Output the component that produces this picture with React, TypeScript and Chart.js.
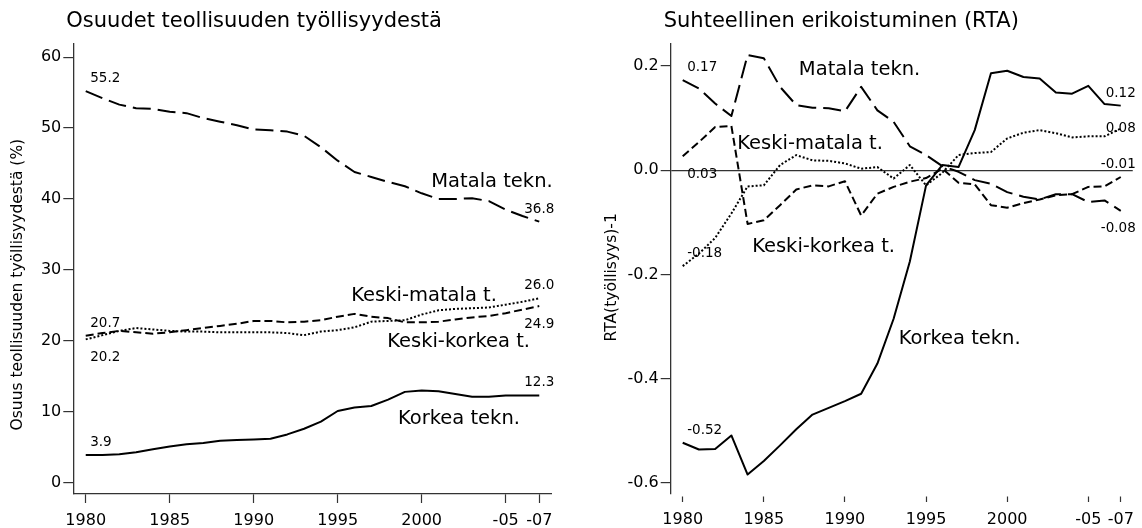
import React, { useEffect, useRef } from "react";
import { Chart, registerables } from "chart.js";

Chart.register(...registerables);

// ---------------- data ----------------
const years = [1980, 1981, 1982, 1983, 1984, 1985, 1986, 1987, 1988, 1989, 1990, 1991, 1992, 1993,
  1994, 1995, 1996, 1997, 1998, 1999, 2000, 2001, 2002, 2003, 2004, 2005, 2006, 2007];

const xTickValues = [1980, 1985, 1990, 1995, 2000, 2005, 2007];
const xTickLabels = ["1980", "1985", "1990", "1995", "2000", "-05", "-07"];

const leftYTicks = [0, 10, 20, 30, 40, 50, 60];
const rightYTicks = [-0.6, -0.4, -0.2, 0, 0.2];

const seriesNames = ["Matala tekn.", "Keski-matala t.", "Keski-korkea t.", "Korkea tekn."];

// Shares of manufacturing employment (%)
const shareLow = [55.2, 54.2, 53.3, 52.8, 52.7, 52.3, 52.1, 51.4, 50.9, 50.4, 49.8, 49.7, 49.5, 48.9,
  47.3, 45.4, 43.8, 43.1, 42.4, 41.8, 40.8, 40.0, 40.0, 40.1, 39.7, 38.5, 37.6, 36.8];
const shareMedLow = [20.2, 20.8, 21.4, 21.8, 21.6, 21.4, 21.3, 21.3, 21.2, 21.2, 21.2, 21.2, 21.1, 20.8,
  21.3, 21.5, 21.9, 22.7, 22.8, 22.9, 23.7, 24.3, 24.5, 24.6, 24.7, 25.1, 25.5, 26.0];
const shareMedHigh = [20.7, 21.1, 21.4, 21.2, 21.0, 21.2, 21.5, 21.8, 22.1, 22.4, 22.8, 22.8, 22.6, 22.7,
  22.9, 23.4, 23.8, 23.4, 23.2, 22.6, 22.6, 22.7, 23.0, 23.3, 23.5, 23.9, 24.4, 24.9];
const shareHigh = [3.9, 3.9, 4.0, 4.3, 4.7, 5.1, 5.4, 5.6, 5.9, 6.0, 6.1, 6.2, 6.8, 7.6,
  8.6, 10.1, 10.6, 10.8, 11.7, 12.8, 13.0, 12.9, 12.5, 12.1, 12.1, 12.3, 12.3, 12.3];

// Relative specialisation RTA - 1
const rtaLow = [0.173, 0.157, 0.128, 0.104, 0.221, 0.215, 0.160, 0.125, 0.120, 0.119, 0.113, 0.160, 0.115, 0.093,
  0.046, 0.029, 0.008, -0.003, -0.019, -0.026, -0.042, -0.051, -0.056, -0.046, -0.046, -0.061, -0.058, -0.078];
const rtaMedLow = [-0.184, -0.160, -0.130, -0.083, -0.031, -0.029, 0.010, 0.029, 0.019, 0.018, 0.013, 0.003, 0.006, -0.016,
  0.010, -0.029, -0.005, 0.029, 0.033, 0.035, 0.061, 0.072, 0.077, 0.071, 0.063, 0.065, 0.065, 0.080];
const rtaMedHigh = [0.027, 0.054, 0.083, 0.085, -0.103, -0.096, -0.067, -0.037, -0.029, -0.031, -0.021, -0.087, -0.045, -0.032,
  -0.022, -0.015, 0.003, -0.024, -0.027, -0.067, -0.072, -0.063, -0.056, -0.048, -0.046, -0.032, -0.031, -0.013];
const rtaHigh = [-0.523, -0.536, -0.535, -0.509, -0.584, -0.558, -0.528, -0.497, -0.469, -0.456, -0.443, -0.429, -0.371, -0.285,
  -0.175, -0.029, 0.010, 0.006, 0.077, 0.186, 0.191, 0.179, 0.176, 0.149, 0.147, 0.162, 0.127, 0.124];

// ---------------- styles ----------------
const FONT = '"DejaVu Sans", "Verdana", sans-serif';
const INK = "#000";
const AXIS = "#333";
const dashes = [[18, 7], [2, 2], [8, 4], []];

type Pos = "above" | "below" | "mid";

interface PanelSpec {
  title: string;
  yTitle: string;
  yTitleX: number;
  yTitleShift: number;
  values: number[][];
  startPos: Pos[];
  endPos: Pos[];
  digits: number;
  nameAnchors: { x: number; y: number; align: CanvasTextAlign }[];
  yMin: number;
  yMax: number;
  yTicks: number[];
  yFmt: (v: number) => string;
  yAxisWidth: number;
  xAxisHeight: number;
  padRight: number;
  xBorder: boolean;
  tickDash: number[];
  zeroLine: boolean;
  width: number;
  left: number;
}

const leftPanel: PanelSpec = {
  title: "Osuudet teollisuuden työllisyydestä",
  yTitle: "Osuus teollisuuden työllisyydestä (%)",
  yTitleX: 18,
  yTitleShift: 16,
  values: [shareLow, shareMedLow, shareMedHigh, shareHigh],
  startPos: ["above", "below", "above", "above"],
  endPos: ["above", "above", "below", "above"],
  digits: 1,
  nameAnchors: [
    { x: 2007.8, y: 42.4, align: "right" },
    { x: 2004.48, y: 26.3, align: "right" },
    { x: 2006.45, y: 19.8, align: "right" },
    { x: 2005.85, y: 9.0, align: "right" },
  ],
  yMin: -1.6,
  yMax: 61.95,
  yTicks: leftYTicks,
  yFmt: (v) => String(v),
  yAxisWidth: 73.3,
  xAxisHeight: 34,
  padRight: 48.3,
  xBorder: true,
  tickDash: [],
  zeroLine: false,
  width: 600,
  left: 0,
};

const rightPanel: PanelSpec = {
  title: "Suhteellinen erikoistuminen (RTA)",
  yTitle: "RTA(työllisyys)-1",
  yTitleX: 12,
  yTitleShift: 9,
  values: [rtaLow, rtaMedLow, rtaMedHigh, rtaHigh],
  startPos: ["above", "above", "below", "above"],
  endPos: ["below", "mid", "above", "above"],
  digits: 2,
  nameAnchors: [
    { x: 1987.16, y: 0.192, align: "left" },
    { x: 1983.36, y: 0.05, align: "left" },
    { x: 1984.28, y: -0.147, align: "left" },
    { x: 1993.31, y: -0.324, align: "left" },
  ],
  yMin: -0.62,
  yMax: 0.2436,
  yTicks: rightYTicks,
  yFmt: (v) => v.toFixed(1),
  yAxisWidth: 70.7,
  xAxisHeight: 34.7,
  padRight: 7,
  xBorder: false,
  tickDash: [0, 3.5, 5.5, 40],
  zeroLine: true,
  width: 542,
  left: 600,
};

const annotPlugin = {
  id: "annot",
  afterDatasetsDraw(chart: any) {
    const spec: PanelSpec = chart.options.plugins.annot.spec;
    const { ctx, chartArea } = chart;
    const xs = chart.scales.x;
    const ys = chart.scales.y;
    ctx.save();
    ctx.fillStyle = INK;
    ctx.textBaseline = "middle";

    // panel title
    ctx.font = `21px ${FONT}`;
    ctx.textAlign = "left";
    ctx.fillText(spec.title, chartArea.left - 7, 22);

    // y axis title
    ctx.save();
    ctx.font = `15.5px ${FONT}`;
    ctx.textAlign = "center";
    ctx.translate(spec.yTitleX, (chartArea.top + chartArea.bottom) / 2 + spec.yTitleShift);
    ctx.rotate(-Math.PI / 2);
    ctx.fillText(spec.yTitle, 0, 0);
    ctx.restore();

    const off = (p: Pos) => (p === "above" ? -12.5 : p === "below" ? 18 : 0);

    // value labels at start and end
    ctx.font = `13.5px ${FONT}`;
    spec.values.forEach((vals, i) => {
      const first = vals[0];
      const last = vals[vals.length - 1];
      const px0 = xs.getPixelForValue(years[0]);
      const py0 = ys.getPixelForValue(first);
      ctx.textAlign = "left";
      ctx.fillText(first.toFixed(spec.digits), px0 + 4.5, py0 + off(spec.startPos[i]));
      const px1 = xs.getPixelForValue(years[years.length - 1]);
      const py1 = ys.getPixelForValue(last);
      ctx.textAlign = "right";
      ctx.fillText(last.toFixed(spec.digits), px1 + 15, py1 + off(spec.endPos[i]));
    });

    // series names
    ctx.font = `19.5px ${FONT}`;
    spec.nameAnchors.forEach((a, i) => {
      ctx.textAlign = a.align;
      ctx.fillText(seriesNames[i], xs.getPixelForValue(a.x), ys.getPixelForValue(a.y));
    });
    ctx.restore();
  },
};

function makeConfig(spec: PanelSpec): any {
  const tickFont = { family: FONT, size: 16 };
  return {
    type: "line",
    data: {
      datasets: spec.values.map((vals, i) => ({
        label: seriesNames[i],
        data: years.map((yr, j) => ({ x: yr, y: vals[j] })),
        borderColor: INK,
        borderWidth: 2,
        borderDash: dashes[i],
        borderCapStyle: "butt",
        borderJoinStyle: "round",
        pointRadius: 0,
        fill: false,
        tension: 0,
      })),
    },
    options: {
      animation: false,
      responsive: false,
      events: [],
      layout: { padding: { left: 0, right: spec.padRight, top: 43.3, bottom: 0 } },
      plugins: {
        legend: { display: false },
        tooltip: { enabled: false },
        title: { display: false },
        annot: { spec },
      },
      scales: {
        x: {
          type: "linear",
          min: 1979.26,
          max: 2007.74,
          afterBuildTicks: (s: any) => {
            s.ticks = xTickValues.map((v) => ({ value: v }));
          },
          afterFit: (s: any) => {
            s.height = spec.xAxisHeight;
          },
          ticks: {
            autoSkip: false,
            maxRotation: 0,
            font: tickFont,
            color: INK,
            padding: 8,
            callback: (v: number) => xTickLabels[xTickValues.indexOf(v)] ?? "",
          },
          grid: {
            drawOnChartArea: false,
            tickLength: 9,
            tickColor: AXIS,
            tickWidth: 1.2,
            tickBorderDash: spec.tickDash,
          },
          border: { display: spec.xBorder, color: AXIS, width: 1.3 },
        },
        y: {
          type: "linear",
          min: spec.yMin,
          max: spec.yMax,
          afterBuildTicks: (s: any) => {
            s.ticks = spec.yTicks.map((v) => ({ value: v }));
          },
          afterFit: (s: any) => {
            s.width = spec.yAxisWidth;
          },
          ticks: {
            font: tickFont,
            color: INK,
            padding: 2,
            callback: (v: number) => spec.yFmt(v),
          },
          grid: {
            drawOnChartArea: spec.zeroLine,
            color: (c: any) =>
              spec.zeroLine && c.tick && Math.abs(c.tick.value) < 1e-9 ? AXIS : "rgba(0,0,0,0)",
            lineWidth: 1.2,
            tickLength: 10,
            tickColor: AXIS,
            tickWidth: 1.2,
          },
          border: { display: true, color: AXIS, width: 1.3 },
        },
      },
    },
    plugins: [annotPlugin],
  };
}

function Panel({ spec }: { spec: PanelSpec }) {
  const ref = useRef<HTMLCanvasElement | null>(null);
  useEffect(() => {
    if (!ref.current) return;
    const chart = new Chart(ref.current, makeConfig(spec));
    return () => chart.destroy();
  }, [spec]);
  return (
    <canvas
      ref={ref}
      width={spec.width}
      height={528}
      style={{ position: "absolute", left: spec.left, top: 0, width: spec.width, height: 528 }}
    />
  );
}

export default function App() {
  return (
    <div
      style={{
        position: "fixed",
        left: 0,
        top: 0,
        width: 1142,
        height: 528,
        background: "#fff",
        overflow: "hidden",
      }}
    >
      <Panel spec={leftPanel} />
      <Panel spec={rightPanel} />
    </div>
  );
}
